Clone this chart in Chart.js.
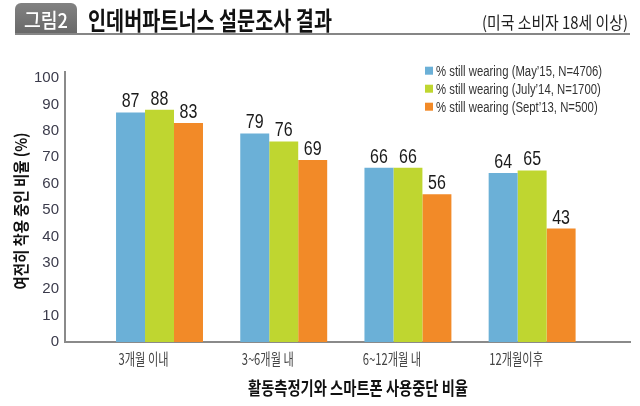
<!DOCTYPE html>
<html>
<head>
<meta charset="utf-8">
<script src="https://cdn.jsdelivr.net/npm/chart.js@4.4.1/dist/chart.umd.min.js"></script>
<style>
  body { margin: 0; background: #fff; }
  #wrap { position: relative; width: 640px; height: 406px; }
</style>
</head>
<body>
<div id="wrap"><canvas id="surveyChart" width="640" height="406"></canvas></div>
<script>
const categories = ['3개월 이내', '3~6개월 내', '6~12개월 내', '12개월이후'];
const seriesNames = [
    '% still wearing (May’15, N=4706)',
    '% still wearing (July’14, N=1700)',
    '% still wearing (Sept’13, N=500)'
];
const may15 = [87, 79, 66, 64];
const july14 = [88, 76, 66, 65];
const sept13 = [83, 69, 56, 43];
const yTickValues = [0, 10, 20, 30, 40, 50, 60, 70, 80, 90, 100];
const colors = ['#6bb0d7', '#bfd630', '#f28a28'];

const KR = "'Noto Sans CJK KR', sans-serif";
const LAT = "'Liberation Sans Narrow', 'Liberation Sans', Arial, sans-serif";

// draw text squeezed horizontally, either to a width or by a factor
function narrowText(ctx, text, x, y, font, color, align, opts) {
    ctx.save();
    ctx.font = font;
    ctx.fillStyle = color;
    ctx.textBaseline = 'alphabetic';
    ctx.textAlign = align;
    let sx = opts.sx;
    if (opts.width) sx = opts.width / ctx.measureText(text).width;
    ctx.translate(x, y);
    if (opts.rotate) ctx.rotate(opts.rotate);
    ctx.scale(sx, 1);
    ctx.fillText(text, 0, 0);
    ctx.restore();
}

function toPoints(values) {
    return values.map((v, i) => ({x: i, y: v}));
}

const headerPlugin = {
    id: 'header',
    beforeDraw: (chart) => {
        const {ctx} = chart;
        ctx.save();
        // tag box
        const grad = ctx.createLinearGradient(0, 3, 0, 34);
        grad.addColorStop(0, '#828282');
        grad.addColorStop(1, '#686868');
        ctx.fillStyle = grad;
        ctx.beginPath();
        ctx.roundRect(15, 3, 62, 31, [6, 6, 0, 0]);
        ctx.fill();
        // rule under header
        ctx.fillStyle = '#868686';
        ctx.fillRect(15, 33, 615, 2);
        ctx.restore();
        narrowText(ctx, '그림2', 46, 28, '500 20px ' + KR, '#ffffff', 'center', {width: 44});
        narrowText(ctx, '인데버파트너스 설문조사 결과', 88, 30, '700 25px ' + KR, '#111111', 'left', {width: 244});
        narrowText(ctx, '(미국 소비자 18세 이상)', 628, 29, '400 17px ' + KR, '#222222', 'right', {width: 146});
    }
};

const labelsPlugin = {
    id: 'labels',
    afterDatasetsDraw: (chart) => {
        const {ctx} = chart;
        chart.data.datasets.forEach((ds, di) => {
            const meta = chart.getDatasetMeta(di);
            meta.data.forEach((bar, i) => {
                narrowText(ctx, String(ds.data[i].y), bar.x, bar.y - 5, '20px ' + LAT, '#1a1a1a', 'center', {sx: 0.8});
            });
        });
    },
    afterDraw: (chart) => {
        const {ctx, scales: {x}} = chart;
        // category labels
        x.ticks.forEach((t, i) => {
            narrowText(ctx, categories[i], x.getPixelForTick(i) - 16, 365, '400 16px ' + KR, '#444444', 'center', {sx: 0.7});
        });
        // axis titles
        narrowText(ctx, '활동측정기와 스마트폰 사용중단 비율', 358, 395, '700 18px ' + KR, '#111111', 'center', {width: 220});
        narrowText(ctx, '여전히 착용 중인 비율 (%)', 26.5, 211, '700 16px ' + KR, '#111111', 'center', {width: 157, rotate: -Math.PI / 2});
        // legend
        chart.data.datasets.forEach((ds, di) => {
            const cy = 70.7 + di * 18;
            ctx.fillStyle = ds.backgroundColor;
            ctx.fillRect(425, cy - 4, 8, 8);
            narrowText(ctx, ds.label, 436, cy + 5, '14px Liberation Sans, Arial, sans-serif', '#333333', 'left', {sx: 0.81});
        });
    }
};

const ctx = document.getElementById('surveyChart').getContext('2d');

new Chart(ctx, {
    type: 'bar',
    data: {
        datasets: [
            {label: seriesNames[0], data: toPoints(may15), backgroundColor: colors[0]},
            {label: seriesNames[1], data: toPoints(july14), backgroundColor: colors[1]},
            {label: seriesNames[2], data: toPoints(sept13), backgroundColor: colors[2]}
        ]
    },
    options: {
        responsive: false,
        animation: false,
        categoryPercentage: 0.7,
        barPercentage: 1.0,
        layout: {
            padding: {top: 72, right: 10, left: 0, bottom: 0}
        },
        plugins: {
            legend: {display: false},
            tooltip: {enabled: false}
        },
        scales: {
            x: {
                type: 'linear',
                offset: false,
                min: -0.761,
                max: 3.788,
                grid: {display: false, offset: false},
                border: {display: true, color: '#8a8a8a', width: 2},
                ticks: {display: false},
                afterBuildTicks: (scale) => {
                    scale.ticks = categories.map((c, i) => ({value: i}));
                },
                afterFit: (scale) => {
                    scale.height = 64;
                }
            },
            y: {
                min: 0,
                max: 102.3,
                grid: {display: false, drawTicks: false},
                border: {display: true, color: '#8a8a8a', width: 2},
                ticks: {
                    includeBounds: false,
                    padding: 6,
                    color: '#3b3b4b',
                    font: {family: LAT, size: 15}
                },
                afterBuildTicks: (scale) => {
                    scale.ticks = yTickValues.map(v => ({value: v}));
                },
                afterFit: (scale) => {
                    scale.width = 65;
                }
            }
        }
    },
    plugins: [headerPlugin, labelsPlugin]
});
</script>
</body>
</html>
